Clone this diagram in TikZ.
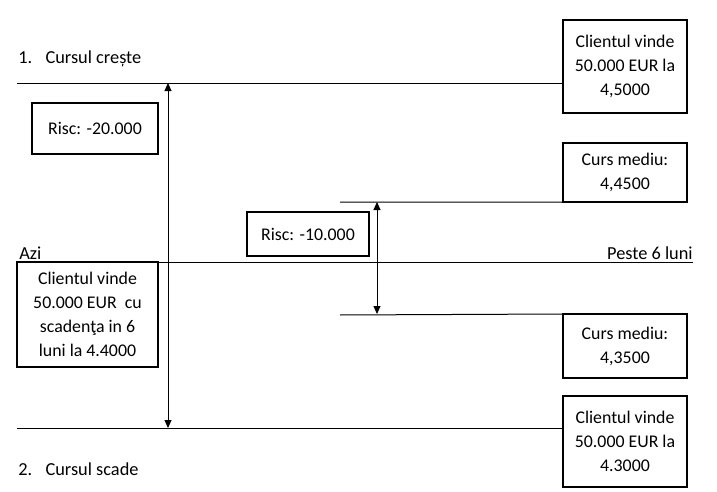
\documentclass[tikz,border=0pt]{standalone}
\usepackage{fontspec}
\setmainfont{Carlito}
\usepackage{tikz}
\usetikzlibrary{arrows.meta,positioning}

\begin{document}
\begin{tikzpicture}[
  x=0.6pt, y=-0.6pt,
  textbox/.style={
    draw=black,
    line width=0.8pt,
    align=center,
    inner sep=0pt,
    outer sep=0pt,
    font=\fontsize{10.7}{14.4}\selectfont
  },
  caption/.style={inner sep=0pt, font=\fontsize{11}{13}\selectfont},
  rateline/.style={line width=0.6pt, draw=black},
  riskarrow/.style={{Triangle[length=4.8pt,width=4.2pt]}-{Triangle[length=4.8pt,width=4.2pt]}, line width=0.6pt}
]
\useasboundingbox (0,0) rectangle (717,492);
% boxes on the right
\node[textbox, minimum width=74.4pt, minimum height=55.8pt] (sellUp) at (625,66.5) {Clientul vinde\\50.000 EUR la\\4,5000};
\node[textbox, minimum width=74.4pt, minimum height=35.4pt] (meanUp) at (625,172.5) {Curs mediu:\\4,4500};
\node[textbox, minimum width=74.4pt, minimum height=38.4pt] (meanDown) at (625,346) {Curs mediu:\\4,3500};
\node[textbox, minimum width=74.4pt, minimum height=54.6pt] (sellDown) at (625,441.5) {Clientul vinde\\50.000 EUR la\\4.3000};
% boxes on the left
\node[textbox, minimum width=75.6pt, minimum height=30.6pt] (risc20) at (95,128.5) {Risc: -20.000};
\node[textbox, minimum width=73.2pt, minimum height=26.4pt] (risc10) at (308,234) {Risc: -10.000};
\node[textbox, minimum width=84.6pt, minimum height=63pt] (contract) at (87.5,314.5) {Clientul vinde\\50.000 EUR\ \ cu\\scaden\c{t}a in 6\\luni la 4.4000};
% captions
\node[caption, anchor=base west] (up) at (18,63) {1.\hspace{8pt}Cursul crește};
\node[caption, anchor=base west] (today) at (19,259) {Azi};
\node[caption, anchor=base east] (later) at (693,259) {Peste 6 luni};
\node[caption, anchor=base west] (down) at (18,475) {2.\hspace{8pt}Cursul scade};
% rate lines
\coordinate (topL) at (17,83);
\coordinate (mupL) at (340,202);
\coordinate (aziL) at (17,262);
\coordinate (aziR) at (693,262);
\coordinate (mdownL) at (340,315);
\coordinate (botL) at (17,428);
\draw[rateline] (topL) -- (topL -| sellUp.west);
\draw[rateline] (mupL) -- (meanUp.south west);
\draw[rateline] (aziL) -- (aziR);
\draw[rateline] (mdownL) -- (meanDown.north west);
\draw[rateline] (botL) -- (botL -| sellDown.west);
% risk arrows
\coordinate (r20top) at (168,83);
\coordinate (r20bot) at (168,428);
\coordinate (r10top) at (377,202);
\coordinate (r10bot) at (377,314);
\draw[riskarrow] (r20top) -- (r20bot);
\draw[riskarrow] (r10top) -- (r10bot);
\end{tikzpicture}
\end{document}
